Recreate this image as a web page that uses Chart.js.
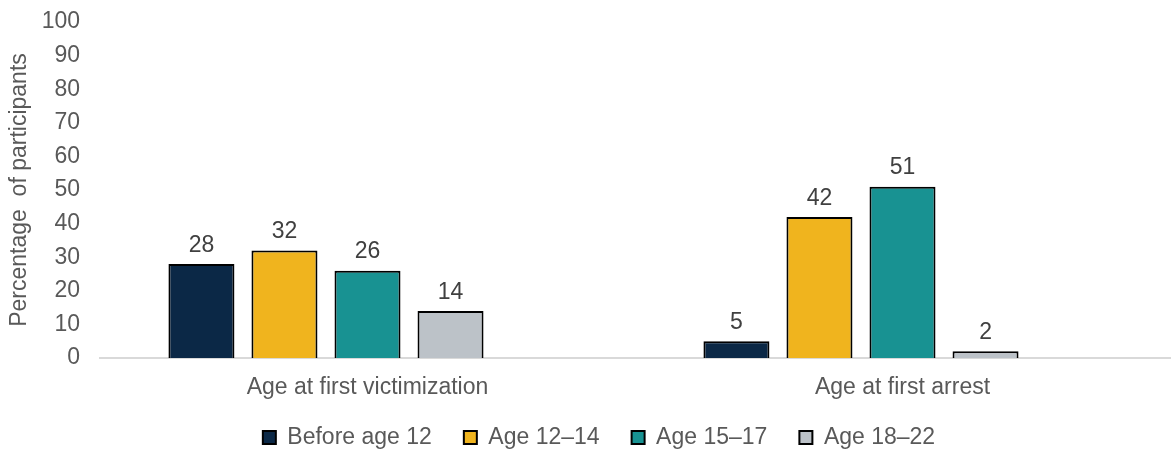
<!DOCTYPE html>
<html>
<head>
<meta charset="utf-8">
<script src="https://cdn.jsdelivr.net/npm/chart.js@4"></script>
<style>
  html, body { margin: 0; padding: 0; background: #fff; }
  #wrap { width: 1171px; height: 453px; }
</style>
</head>
<body>
<div id="wrap"><canvas id="chart"></canvas></div>
<script>
var categories = ["Age at first victimization", "Age at first arrest"];
var seriesNames = ["Before age 12", "Age 12\u201314", "Age 15\u201317", "Age 18\u201322"];
var before12 = [28, 5];
var age12to14 = [32, 42];
var age15to17 = [26, 51];
var age18to22 = [14, 2];
var yTicks = [0, 10, 20, 30, 40, 50, 60, 70, 80, 90, 100];

var colors = ["#0b2846", "#f0b41e", "#189292", "#bcc2c8"];
var values = [before12, age12to14, age15to17, age18to22];

var datasets = [];
for (let i = 0; i < values.length; i++) {
  datasets.push({
    label: seriesNames[i],
    data: values[i],
    backgroundColor: colors[i],
    borderColor: "#000",
    borderWidth: 2,
    borderSkipped: "bottom"
  });
}
// empty slot (the original chart leaves a gap after the 4th series)
datasets.push({ label: "", data: [null, null], backgroundColor: "transparent" });

// labels above bars
var barLabels = {
  id: "barLabels",
  afterDatasetsDraw(chart) {
    var ctx = chart.ctx;
    ctx.save();
    ctx.font = "23px 'Liberation Sans', Arial, sans-serif";
    ctx.fillStyle = "#404040";
    ctx.textAlign = "center";
    ctx.textBaseline = "bottom";
    chart.data.datasets.forEach(function (ds, i) {
      if (ds.label === "") return;
      chart.getDatasetMeta(i).data.forEach(function (bar, j) {
        ctx.fillText(ds.data[j], bar.x, bar.y - 7);
      });
    });
    ctx.restore();
  }
};

// tighter legend box; let x labels draw past the (shortened) x scale box
var layoutFix = {
  id: "layoutFix",
  beforeInit(chart) {
    var orig = chart.legend.fit;
    chart.legend.fit = function () {
      orig.call(this);
      this.height = 59;
    };
  },
  afterLayout(chart) {
    chart.scales.x.bottom += 20;
    chart.legend.left += 14;
    chart.legend.right += 14;
  }
};

Chart.defaults.font.family = "'Liberation Sans', Arial, sans-serif";
Chart.defaults.font.size = 23;
Chart.defaults.color = "#595959";

var ctx = document.getElementById("chart").getContext("2d");
var chart = new Chart(ctx, {
  type: "bar",
  data: { labels: categories, datasets: datasets },
  options: {
    responsive: true,
    maintainAspectRatio: false,
    animation: false,
    categoryPercentage: 0.776,
    barPercentage: 0.795,
    layout: { padding: { top: 0, right: 1, bottom: 0, left: 0 } },
    plugins: {
      tooltip: { enabled: false },
      legend: {
        position: "bottom",
        labels: {
          boxWidth: 13,
          boxHeight: 13,
          padding: 32,
          color: "#595959",
          font: { size: 23 },
          filter: function (item) { return item.text !== ""; }
        }
      }
    },
    scales: {
      x: {
        grid: { display: false, drawTicks: false },
        border: { display: true, color: "#d9d9d9", width: 2 },
        ticks: { padding: 16, color: "#595959" },
        afterFit: function (scale) { scale.height = 36; }
      },
      y: {
        min: 0,
        max: 100,
        afterBuildTicks: function (scale) {
          scale.ticks = yTicks.map(function (v) { return { value: v }; });
        },
        afterFit: function (scale) {
          scale.width = 100;
          scale.paddingTop = 22;
        },
        grid: { display: false, drawTicks: false },
        border: { display: false },
        ticks: { padding: 20, color: "#595959" },
        title: {
          display: true,
          text: "Percentage  of participants",
          color: "#595959",
          font: { size: 23 },
          padding: { top: 6, bottom: 0 }
        }
      }
    }
  },
  plugins: [barLabels, layoutFix]
});
</script>
</body>
</html>
